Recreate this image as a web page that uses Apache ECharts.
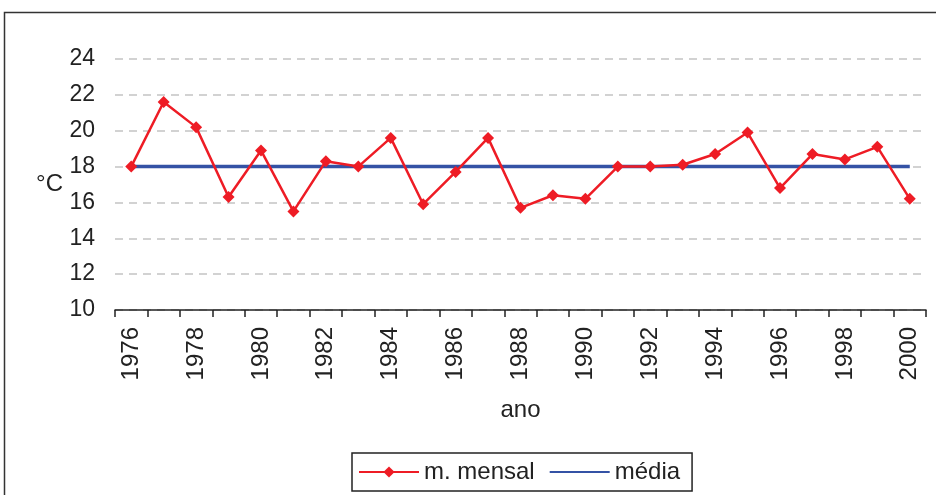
<!DOCTYPE html>
<html>
<head>
<meta charset="utf-8">
<script src="https://cdn.jsdelivr.net/npm/echarts@6/dist/echarts.min.js"></script>
<style>
  html, body { margin: 0; padding: 0; background: #fff; }
  #chart { width: 936px; height: 495px; }
</style>
</head>
<body>
<div id="chart"></div>
<script>
// dados
const anos = ['1976', '1977', '1978', '1979', '1980', '1981', '1982', '1983', '1984', '1985',
  '1986', '1987', '1988', '1989', '1990', '1991', '1992', '1993', '1994', '1995',
  '1996', '1997', '1998', '1999', '2000'];
const mMensal = [18.0, 21.6, 20.2, 16.3, 18.9, 15.5, 18.3, 18.0, 19.6, 15.9,
  17.7, 19.6, 15.7, 16.4, 16.2, 18.0, 18.0, 18.1, 18.7, 19.9,
  16.8, 18.7, 18.4, 19.1, 16.2];
const media = [18, 18, 18, 18, 18, 18, 18, 18, 18, 18,
  18, 18, 18, 18, 18, 18, 18, 18, 18, 18,
  18, 18, 18, 18, 18];

const fonte = '"Liberation Sans", Arial, sans-serif';
const myChart = echarts.init(document.getElementById('chart'));

const option = {
  animation: false,
  textStyle: { fontFamily: fonte },
  graphic: [{ // moldura
    type: 'rect',
    shape: { x: 4.5, y: 12.5, width: 1000, height: 600 },
    style: { fill: 'none', stroke: '#333', lineWidth: 1.5 },
    silent: true
  }],
  grid: { left: 115, right: 10, top: 59, bottom: 185 },
  legend: {
    data: [
      { name: 'm. mensal' },
      { name: 'média', itemStyle: { opacity: 0 } }
    ],
    left: 352,
    top: 453,
    padding: [7, 12, 7, 6],
    itemGap: 14,
    itemWidth: 60,
    itemHeight: 14,
    borderColor: '#222',
    borderWidth: 1.5,
    textStyle: { fontSize: 24, color: '#222', fontFamily: fonte }
  },
  xAxis: {
    type: 'category',
    data: anos,
    boundaryGap: true,
    name: 'ano',
    nameLocation: 'middle',
    nameGap: 88,
    nameTextStyle: { fontSize: 24, color: '#222' },
    axisLine: { lineStyle: { color: '#222', width: 1.5 } },
    axisTick: { show: true, interval: 0, length: 7, lineStyle: { color: '#222', width: 1.5 } },
    axisLabel: { interval: 1, rotate: 90, margin: 17, fontSize: 24, color: '#222' }
  },
  yAxis: {
    type: 'value',
    min: 10,
    max: 24,
    interval: 2,
    name: '°C',
    nameLocation: 'middle',
    nameRotate: 0,
    nameGap: 52,
    nameTextStyle: { fontSize: 24, color: '#222' },
    axisLine: { show: false },
    axisTick: { show: false },
    axisLabel: { fontSize: 23, color: '#222', margin: 20 },
    splitLine: { lineStyle: { color: '#c4c4c4', width: 1.5, type: [8, 6] } }
  },
  series: [
    {
      name: 'm. mensal',
      type: 'line',
      data: mMensal,
      z: 3,
      symbol: 'diamond',
      symbolSize: 12,
      itemStyle: { color: '#ee1c25' },
      lineStyle: { color: '#ee1c25', width: 2.5 }
    },
    {
      name: 'média',
      type: 'line',
      data: media,
      z: 2,
      symbol: 'none',
      itemStyle: { color: '#3452a5' },
      lineStyle: { color: '#3452a5', width: 3.5 }
    }
  ]
};

myChart.setOption(option);
</script>
</body>
</html>
